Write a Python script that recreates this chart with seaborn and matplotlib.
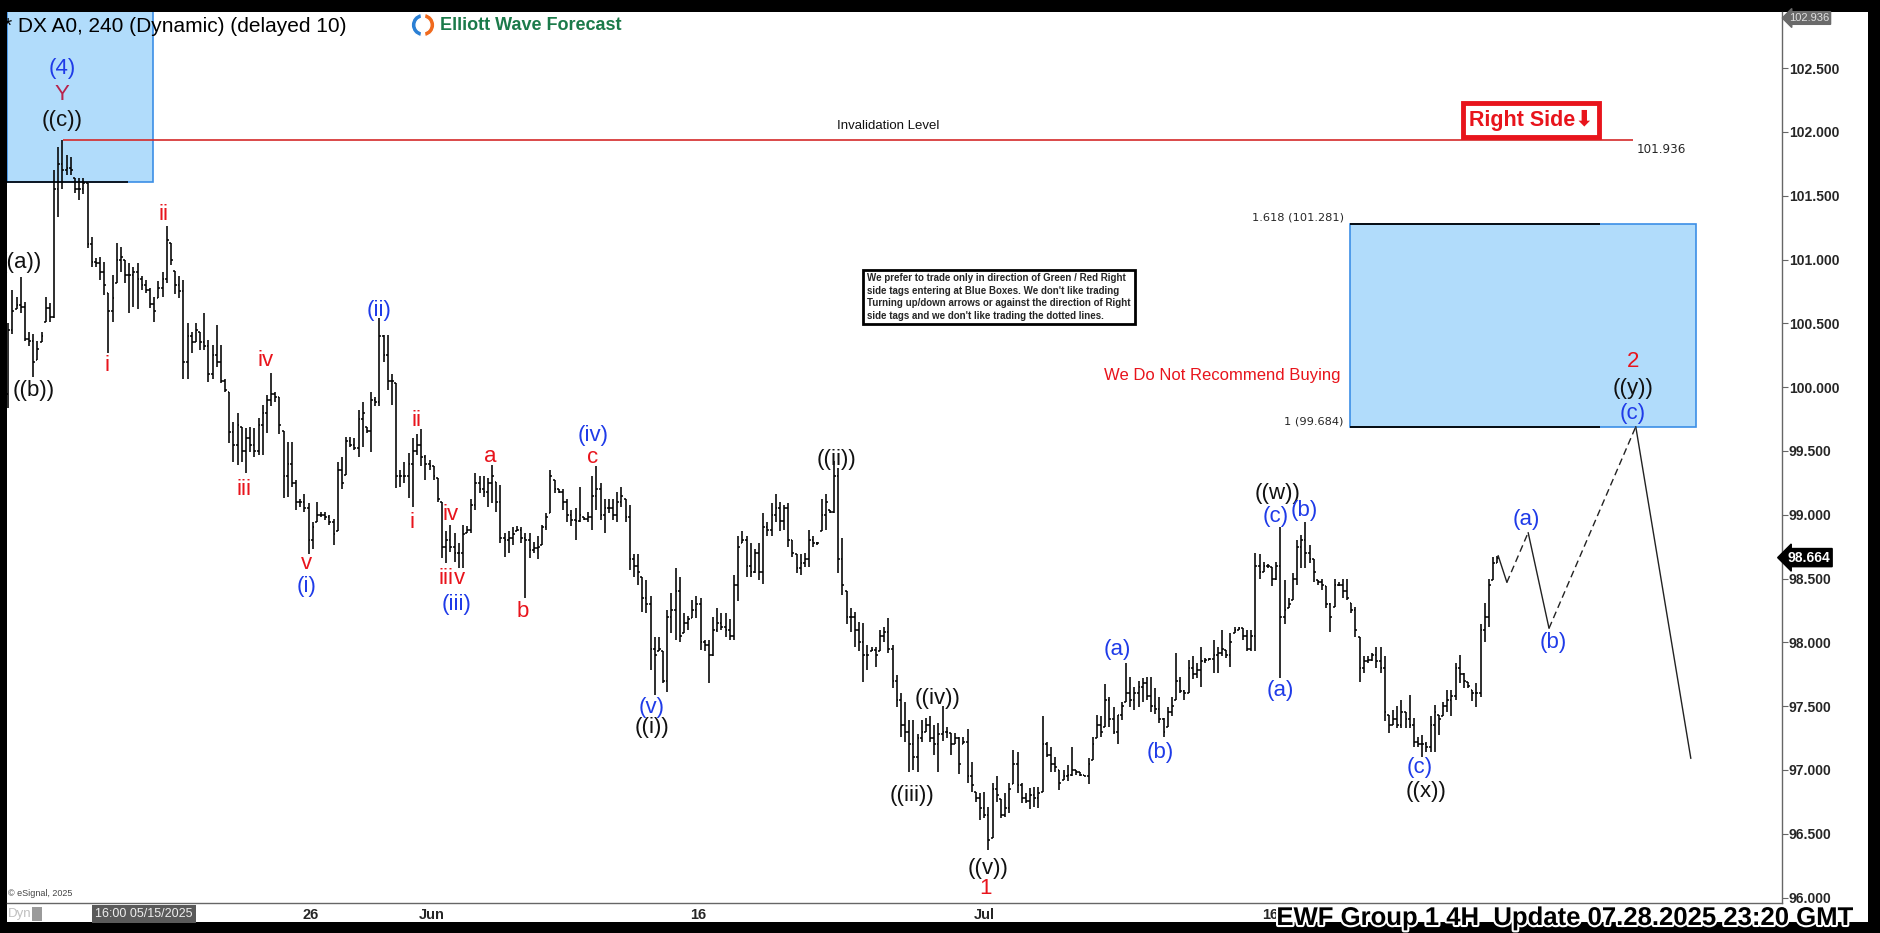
import numpy as np
import matplotlib
matplotlib.use("Agg")
import matplotlib.pyplot as plt
import matplotlib.patheffects as pe
import matplotlib.transforms as mtransforms
from matplotlib.patches import Rectangle, Wedge
from matplotlib import font_manager
import seaborn as sns

# DX A0 240-minute bars (H / L / C, one value per bar)
highs = [
    100.50, 100.76, 100.71, 100.86, 100.67, 100.43, 100.42, 100.36, 100.43, 100.71,
    100.66, 101.70, 101.88, 101.94, 101.82, 101.80, 101.64, 101.64, 101.64, 101.60,
    101.18, 101.01, 101.02, 100.98, 100.74, 100.88, 101.13, 101.10, 101.00, 100.97,
    100.94, 100.97, 100.87, 100.84, 100.78, 100.71, 100.83, 100.90, 101.26, 101.13,
    100.91, 100.87, 100.84, 100.50, 100.43, 100.50, 100.43, 100.58, 100.37, 100.33,
    100.49, 100.33, 100.06, 99.96, 99.73, 99.80, 99.69, 99.68, 99.69, 99.68,
    99.76, 99.86, 99.94, 100.11, 99.96, 99.92, 99.66, 99.57, 99.57, 99.27,
    99.12, 99.16, 99.09, 98.94, 99.10, 99.02, 99.02, 99.00, 98.97, 99.41,
    99.45, 99.61, 99.61, 99.60, 99.82, 99.88, 99.69, 99.96, 99.92, 100.54,
    100.41, 100.41, 100.10, 100.03, 99.35, 99.41, 99.48, 99.60, 99.63, 99.67,
    99.47, 99.43, 99.38, 99.29, 99.10, 98.87, 98.92, 98.86, 98.78, 98.92,
    98.91, 99.12, 99.33, 99.30, 99.30, 99.29, 99.39, 99.26, 99.23, 98.86,
    98.87, 98.90, 98.91, 98.90, 98.86, 98.86, 98.79, 98.83, 98.92, 99.01,
    99.35, 99.27, 99.20, 99.20, 99.12, 99.04, 99.05, 99.22, 98.98, 99.02,
    99.30, 99.38, 99.25, 99.12, 99.12, 99.12, 99.18, 99.22, 99.12, 99.08,
    98.69, 98.69, 98.51, 98.49, 98.36, 98.04, 98.04, 97.93, 98.25, 98.39,
    98.58, 98.51, 98.23, 98.21, 98.33, 98.36, 98.35, 98.02, 98.02, 98.20,
    98.27, 98.23, 98.23, 98.18, 98.53, 98.83, 98.87, 98.83, 98.78, 98.73,
    98.78, 99.01, 98.94, 99.09, 99.16, 99.10, 99.08, 99.09, 98.80, 98.69,
    98.69, 98.70, 98.88, 98.83, 98.79, 99.12, 99.16, 99.04, 99.42, 99.37,
    98.82, 98.40, 98.27, 98.24, 98.16, 98.15, 97.98, 97.96, 97.96, 98.10,
    98.12, 98.19, 97.98, 97.74, 97.60, 97.53, 97.39, 97.39, 97.28, 97.39,
    97.41, 97.42, 97.35, 97.37, 97.50, 97.34, 97.29, 97.29, 97.26, 97.26,
    97.32, 97.06, 96.83, 96.82, 96.83, 96.71, 96.90, 96.95, 96.77, 96.82,
    96.90, 97.16, 97.14, 96.90, 96.82, 96.86, 96.87, 96.87, 97.42, 97.22,
    97.18, 97.10, 97.00, 97.00, 97.04, 97.18, 97.00, 96.98, 96.96, 97.09,
    97.26, 97.43, 97.42, 97.67, 97.57, 97.49, 97.43, 97.53, 97.84, 97.73,
    97.65, 97.70, 97.72, 97.73, 97.73, 97.64, 97.57, 97.41, 97.49, 97.57,
    97.92, 97.73, 97.63, 97.86, 97.89, 97.84, 97.96, 97.88, 97.88, 98.02,
    97.96, 98.10, 97.94, 98.07, 98.12, 98.12, 98.11, 98.10, 98.10, 98.70,
    98.69, 98.63, 98.61, 98.59, 98.63, 98.90, 98.49, 98.35, 98.54, 98.80,
    98.84, 98.94, 98.76, 98.65, 98.49, 98.50, 98.44, 98.31, 98.50, 98.47,
    98.50, 98.50, 98.31, 98.28, 98.04, 97.89, 97.89, 97.92, 97.96, 97.96,
    97.89, 97.43, 97.47, 97.50, 97.55, 97.45, 97.59, 97.41, 97.26, 97.27,
    97.22, 97.42, 97.51, 97.43, 97.53, 97.63, 97.63, 97.84, 97.90, 97.76,
    97.69, 97.63, 97.68, 98.14, 98.31, 98.50, 98.67, 98.68,
]
lows = [
    99.84, 100.42, 100.61, 100.58, 100.36, 100.32, 100.08, 100.21, 100.35, 100.51,
    100.51, 100.54, 101.33, 101.55, 101.66, 101.66, 101.52, 101.47, 101.51, 101.09,
    100.94, 100.94, 100.84, 100.72, 100.27, 100.51, 100.82, 100.90, 100.82, 100.58,
    100.63, 100.61, 100.76, 100.74, 100.62, 100.51, 100.70, 100.71, 100.82, 100.96,
    100.73, 100.70, 100.06, 100.06, 100.27, 100.35, 100.29, 100.29, 100.04, 100.06,
    100.16, 100.03, 99.96, 99.56, 99.41, 99.39, 99.41, 99.33, 99.49, 99.45,
    99.47, 99.47, 99.64, 99.85, 99.88, 99.63, 99.13, 99.14, 99.22, 99.04,
    99.06, 99.02, 98.69, 98.73, 98.94, 98.98, 98.96, 98.92, 98.76, 98.87,
    99.20, 99.31, 99.53, 99.51, 99.45, 99.53, 99.64, 99.49, 99.85, 99.85,
    100.20, 99.98, 99.86, 99.21, 99.22, 99.25, 99.13, 99.06, 99.47, 99.38,
    99.27, 99.35, 99.27, 99.10, 98.66, 98.62, 98.71, 98.63, 98.58, 98.58,
    98.86, 98.86, 99.04, 99.17, 99.14, 99.06, 99.09, 99.02, 98.78, 98.67,
    98.70, 98.76, 98.87, 98.78, 98.35, 98.66, 98.70, 98.65, 98.76, 98.88,
    99.01, 99.17, 99.17, 99.04, 98.94, 98.91, 98.80, 98.94, 98.96, 98.94,
    98.88, 99.04, 98.96, 98.86, 99.01, 98.96, 98.94, 99.06, 98.94, 98.57,
    98.51, 98.45, 98.24, 98.23, 97.78, 97.59, 97.93, 97.68, 97.61, 98.07,
    98.02, 98.00, 98.07, 98.10, 98.19, 98.19, 97.94, 97.93, 97.68, 97.89,
    98.08, 98.10, 98.04, 98.02, 98.02, 98.32, 98.78, 98.51, 98.51, 98.54,
    98.49, 98.46, 98.83, 98.83, 98.94, 98.87, 98.88, 98.75, 98.67, 98.54,
    98.53, 98.59, 98.59, 98.75, 98.76, 98.87, 98.88, 99.01, 99.01, 98.54,
    98.37, 98.14, 98.08, 97.96, 97.93, 97.69, 97.78, 97.93, 97.81, 97.93,
    98.00, 97.92, 97.64, 97.49, 97.26, 97.22, 96.98, 97.00, 96.98, 97.22,
    97.30, 97.22, 97.12, 96.98, 97.23, 97.25, 97.12, 97.20, 96.97, 97.20,
    96.90, 96.83, 96.75, 96.61, 96.62, 96.37, 96.47, 96.75, 96.62, 96.63,
    96.66, 96.89, 96.82, 96.74, 96.74, 96.69, 96.71, 96.70, 96.83, 97.10,
    96.98, 96.98, 96.84, 96.92, 96.91, 96.95, 96.96, 96.95, 96.95, 96.89,
    97.08, 97.25, 97.26, 97.34, 97.34, 97.28, 97.20, 97.39, 97.53, 97.49,
    97.47, 97.49, 97.53, 97.55, 97.45, 97.44, 97.37, 97.26, 97.34, 97.42,
    97.55, 97.60, 97.55, 97.60, 97.71, 97.72, 97.65, 97.84, 97.86, 97.76,
    97.76, 97.89, 97.88, 97.81, 98.07, 98.10, 98.02, 97.93, 97.93, 97.93,
    98.50, 98.55, 98.58, 98.44, 98.49, 97.72, 98.14, 98.27, 98.33, 98.45,
    98.58, 98.58, 98.62, 98.47, 98.45, 98.41, 98.27, 98.08, 98.28, 98.44,
    98.35, 98.33, 98.23, 98.04, 97.69, 97.76, 97.84, 97.85, 97.80, 97.76,
    97.38, 97.29, 97.35, 97.33, 97.33, 97.33, 97.33, 97.18, 97.18, 97.10,
    97.14, 97.14, 97.14, 97.27, 97.42, 97.45, 97.42, 97.55, 97.68, 97.64,
    97.64, 97.54, 97.49, 97.57, 98.00, 98.12, 98.49, 98.62,
]
closes = [
    100.45, 100.60, 100.64, 100.63, 100.38, 100.36, 100.20, 100.30, 100.40, 100.62,
    100.55, 101.55, 101.75, 101.70, 101.72, 101.70, 101.55, 101.55, 101.60, 101.12,
    100.98, 100.97, 100.90, 100.80, 100.60, 100.70, 101.00, 101.02, 100.88, 100.88,
    100.90, 100.85, 100.80, 100.76, 100.65, 100.60, 100.78, 100.85, 101.15, 101.00,
    100.80, 100.75, 100.20, 100.40, 100.35, 100.45, 100.35, 100.32, 100.10, 100.25,
    100.20, 100.05, 99.98, 99.65, 99.55, 99.70, 99.50, 99.60, 99.55, 99.50,
    99.70, 99.80, 99.90, 99.95, 99.92, 99.70, 99.30, 99.40, 99.25, 99.10,
    99.10, 99.05, 98.80, 98.90, 99.00, 99.00, 98.98, 98.94, 98.85, 99.35,
    99.25, 99.58, 99.55, 99.52, 99.75, 99.80, 99.66, 99.90, 99.88, 100.40,
    100.25, 100.05, 100.05, 99.30, 99.30, 99.30, 99.40, 99.50, 99.55, 99.45,
    99.40, 99.38, 99.30, 99.12, 98.75, 98.80, 98.75, 98.70, 98.70, 98.85,
    98.88, 99.08, 99.25, 99.20, 99.18, 99.25, 99.30, 99.10, 98.82, 98.80,
    98.82, 98.85, 98.88, 98.82, 98.80, 98.72, 98.74, 98.75, 98.90, 98.98,
    99.30, 99.20, 99.18, 99.10, 99.00, 98.96, 98.95, 99.00, 98.97, 98.98,
    99.15, 99.20, 99.00, 99.05, 99.05, 99.00, 99.10, 99.15, 98.98, 98.65,
    98.60, 98.55, 98.35, 98.30, 97.95, 97.90, 97.95, 97.70, 98.20, 98.25,
    98.40, 98.05, 98.15, 98.18, 98.25, 98.30, 98.00, 97.98, 97.90, 98.10,
    98.15, 98.12, 98.10, 98.05, 98.45, 98.75, 98.80, 98.60, 98.55, 98.70,
    98.55, 98.90, 98.88, 99.00, 99.05, 98.95, 99.05, 98.80, 98.70, 98.58,
    98.62, 98.65, 98.80, 98.78, 98.78, 99.00, 99.10, 99.02, 99.30, 98.65,
    98.45, 98.20, 98.20, 98.10, 98.00, 97.90, 97.90, 97.94, 97.90, 98.05,
    98.08, 97.95, 97.70, 97.55, 97.35, 97.30, 97.20, 97.10, 97.25, 97.30,
    97.35, 97.25, 97.20, 97.28, 97.30, 97.30, 97.20, 97.25, 97.05, 97.22,
    96.95, 96.88, 96.78, 96.70, 96.65, 96.45, 96.85, 96.80, 96.65, 96.70,
    96.85, 97.05, 96.88, 96.78, 96.76, 96.80, 96.78, 96.82, 97.20, 97.12,
    97.05, 97.02, 96.90, 96.95, 96.96, 97.00, 96.98, 96.96, 96.95, 97.05,
    97.20, 97.35, 97.30, 97.55, 97.40, 97.30, 97.45, 97.50, 97.60, 97.55,
    97.60, 97.65, 97.68, 97.58, 97.50, 97.48, 97.40, 97.30, 97.45, 97.50,
    97.70, 97.62, 97.60, 97.80, 97.75, 97.78, 97.85, 97.86, 97.87, 97.90,
    97.92, 97.95, 97.90, 98.00, 98.10, 98.11, 98.05, 97.95, 98.05, 98.60,
    98.55, 98.60, 98.60, 98.50, 98.60, 98.20, 98.25, 98.30, 98.50, 98.75,
    98.80, 98.70, 98.65, 98.55, 98.47, 98.45, 98.30, 98.20, 98.45, 98.45,
    98.40, 98.35, 98.25, 98.10, 97.80, 97.85, 97.86, 97.90, 97.85, 97.80,
    97.45, 97.35, 97.40, 97.35, 97.45, 97.40, 97.35, 97.22, 97.20, 97.20,
    97.18, 97.35, 97.45, 97.40, 97.50, 97.55, 97.58, 97.80, 97.75, 97.70,
    97.66, 97.60, 97.60, 98.10, 98.20, 98.45, 98.62, 98.664,
]
first_open = 99.95

# date labels on the x axis (bar position of each)
date_pos = [72.6, 101.6, 165.4, 233.9, 302.5]
date_labels = ["26", "Jun", "16", "Jul", "16"]
price_ticks = [96.0, 96.5, 97.0, 97.5, 98.0, 98.5, 99.0, 99.5, 100.0, 100.5, 101.0, 101.5, 102.0, 102.5]

# projected path after the last bar
proj_x = [357.2, 359.3, 364.4, 369.4, 390.2, 403.4]
proj_y = [98.68, 98.47, 98.86, 98.11, 99.69, 97.09]
proj_dashed = [False, True, False, True, False]

# wave labels
wave_x = [3.1, 6.2, 12.9, 12.9, 12.9, 23.7, 37.3, 56.5, 61.8, 71.6, 71.6, 88.9,
          96.8, 97.8, 106.1, 105.0, 108.3, 107.6, 115.5, 123.4, 140.2, 140.2, 154.3, 154.3,
          198.5, 216.7, 222.7, 234.9, 234.4, 265.8, 276.1, 304.4, 303.9, 310.6, 304.9,
          338.5, 339.9, 363.9, 370.4, 389.5, 389.5, 389.5]
wave_y = [100.98, 99.97, 102.50, 102.29, 102.09, 100.17, 101.35, 99.20, 100.21, 98.62, 98.44, 100.60,
          98.94, 99.74, 99.00, 98.50, 98.50, 98.30, 99.46, 98.24, 99.62, 99.45, 97.49, 97.33,
          99.43, 96.80, 97.56, 96.23, 96.07, 97.94, 97.14, 99.17, 98.99, 99.03, 97.62,
          97.02, 96.83, 98.96, 98.00, 100.20, 99.99, 99.79]
wave_txt = ["((a))", "((b))", "(4)", "Y", "((c))", "i", "ii", "iii", "iv", "v", "(i)", "(ii)",
            "i", "ii", "iv", "iii", "v", "(iii)", "a", "b", "(iv)", "c", "(v)", "((i))",
            "((ii))", "((iii))", "((iv))", "((v))", "1", "(a)", "(b)", "((w))", "(c)", "(b)", "(a)",
            "(c)", "((x))", "(a)", "(b)", "2", "((y))", "(c)"]
wave_col = ["k", "k", "b", "m", "k", "r", "r", "r", "r", "r", "b", "b",
            "r", "r", "r", "r", "r", "b", "r", "r", "b", "r", "b", "k",
            "k", "k", "k", "k", "r", "b", "b", "k", "b", "b", "b",
            "b", "k", "b", "b", "r", "k", "b"]
colour_of = {"k": "#111111", "r": "#e8141c", "b": "#1f3be8", "m": "#b8234c"}

invalidation = 101.936
fib_low, fib_high = 99.684, 101.281
last_price = 98.664
top_price = 102.936

sns.set_style("white")
names = {f.name for f in font_manager.fontManager.ttflist}
NARROW = "Liberation Sans Narrow" if "Liberation Sans Narrow" in names else None
plt.rcParams["font.family"] = ["Liberation Sans", "DejaVu Sans"]

W, H = 1881, 933
fig = plt.figure(figsize=(W / 100, H / 100), dpi=100, facecolor="black")
panel = Rectangle((7 / W, 1 - 922 / H), (1868 - 7) / W, (922 - 12) / H,
                  transform=fig.transFigure, fc="white", ec="none", zorder=-5)
fig.add_artist(panel)
ax = fig.add_axes([7 / W, 1 - 903 / H, (1782 - 7) / W, (903 - 12) / H])
ax.set_facecolor("white")

bar_px = 4.171
x0 = -0.3
ax.set_xlim(x0, x0 + (1782 - 7) / bar_px)
ax.set_ylim(95.957, 102.94)

# blue boxes
ax.add_patch(Rectangle((x0, 101.61), 34.7 - x0, 2.0, fc="#b1dcfb", ec="#3c8fe6", lw=1.2, zorder=0.5))
ax.hlines(101.61, x0, 28.7, color="black", lw=1.2, zorder=0.6)
ax.add_patch(Rectangle((321.7, fib_low), 404.6 - 321.7, fib_high - fib_low,
                       fc="#b1dcfb", ec="#3c8fe6", lw=1.2, zorder=0.5))
ax.hlines([fib_low, fib_high], 321.7, 381.6, color="black", lw=1.3, zorder=0.6)

# OHLC bars
hi = np.array(highs)
lo = np.array(lows)
cl = np.clip(np.array(closes), lo, hi)
op = np.clip(np.r_[first_open, cl[:-1]], lo, hi)
idx = np.arange(len(cl))
ax.vlines(idx, lo, hi, color="black", lw=1.15, zorder=2)
ax.hlines(op, idx - 0.42, idx, color="black", lw=1.1, zorder=2)
ax.hlines(cl, idx, idx + 0.42, color="black", lw=1.1, zorder=2)

# projection
for k in range(len(proj_x) - 1):
    sns.lineplot(x=proj_x[k:k + 2], y=proj_y[k:k + 2], ax=ax, color="#222222", lw=1.0,
                 linestyle=(0, (5, 3)) if proj_dashed[k] else "-", sort=False, estimator=None)

# invalidation level
ax.hlines(invalidation, 13.2, 389.5, color="#d42a2a", lw=1.2, zorder=1.5)
ax.text(211, 102.05, "Invalidation Level", fontsize=9.5, ha="center", va="center", color="#111")
ax.text(390.5, 101.86, "101.936", fontsize=8.6, ha="left", va="center", family="DejaVu Sans")
ax.text(320.2, 101.33, "1.618 (101.281)", fontsize=8.2, ha="right", va="center", family="DejaVu Sans")
ax.text(320.2, 99.73, "1 (99.684)", fontsize=8.2, ha="right", va="center", family="DejaVu Sans")
ax.text(319.3, 100.09, "We Do Not Recommend Buying", fontsize=12, ha="right", va="center", color="#e8141c")

for x, y, t, c in zip(wave_x, wave_y, wave_txt, wave_col):
    ax.text(x, y, t, fontsize=16, ha="center", va="center", color=colour_of[c], zorder=3, clip_on=True)

# axes look
for s in ["left", "top"]:
    ax.spines[s].set_visible(False)
for s in ["right", "bottom"]:
    ax.spines[s].set_color("#666666")
    ax.spines[s].set_linewidth(1.0)
ax.yaxis.tick_right()
ax.set_yticks(price_ticks)
ax.set_yticklabels([f"{v:.3f}" for v in price_ticks], fontsize=10, fontweight="bold")
ax.set_xticks(date_pos)
ax.set_xticklabels(date_labels, fontsize=10.5, fontweight="bold")
ax.tick_params(axis="y", length=4, width=0.8, pad=1, color="#666666")
ax.tick_params(axis="x", length=3, width=0.8, pad=0.5, color="#666666")
ax.set_xlabel("")
ax.set_ylabel("")

# price tags on the right
blend = mtransforms.blended_transform_factory(ax.transAxes, ax.transData)
ax.text(1.003, last_price, f"{last_price:.3f}", transform=blend, ha="left", va="center",
        color="white", fontsize=10, fontweight="bold", zorder=5, clip_on=False,
        bbox=dict(boxstyle="larrow,pad=0.15", fc="black", ec="black"))
fig.text(1789 / W, 1 - 18 / H, f"{top_price:.3f}", ha="left", va="center", color="#e0e0e0",
         fontsize=8, bbox=dict(boxstyle="larrow,pad=0.12", fc="#6a6a6a", ec="#6a6a6a"))

# header
fig.text(4 / W, 1 - 26 / H, "* DX A0, 240 (Dynamic) (delayed 10)", fontsize=15, ha="left", va="center", color="black")
logo = fig.add_axes([410 / W, 1 - 38 / H, 26 / W, 26 / H])
logo.set_xlim(-1.1, 1.1)
logo.set_ylim(-1.1, 1.1)
logo.set_aspect("equal")
logo.axis("off")
logo.add_patch(Wedge((0, 0), 1.0, 100, 260, width=0.42, fc="#2a7fd4"))
logo.add_patch(Wedge((0, 0), 1.0, 280, 80, width=0.42, fc="#f06a1e"))
fig.text(440 / W, 1 - 26 / H, "Elliott Wave Forecast", fontsize=13, fontweight="bold", color="#1b7a4a", ha="left", va="center")

# footer bits
fig.text(8 / W, 1 - 894 / H, "\u00a9 eSignal, 2025", fontsize=6.5, color="#444444", va="center")
fig.text(8 / W, 1 - 914 / H, "Dyn", fontsize=9.5, color="#c0c0c0", va="center")
fig.add_artist(Rectangle((32 / W, 1 - 921 / H), 10 / W, 14 / H, transform=fig.transFigure, fc="#9a9a9a", ec="none"))
fig.text(95 / W, 1 - 914 / H, "16:00 05/15/2025", fontsize=9, color="#eeeeee", va="center",
         bbox=dict(boxstyle="square,pad=0.25", fc="#5a5a5a", ec="none"))

# disclaimer box
disc = ("We prefer to trade only in direction of Green / Red Right\n"
        "side tags entering at Blue Boxes. We don't like trading\n"
        "Turning up/down arrows or against the direction of Right\n"
        "side tags and we don't like trading the dotted lines.")
fig.text(999 / W, 1 - 297 / H, disc, ha="center", va="center", multialignment="left",
         fontsize=8.4 if NARROW else 7.0, fontweight="bold", linespacing=1.3,
         family=[NARROW or "Liberation Sans", "DejaVu Sans"],
         bbox=dict(boxstyle="square,pad=0.4", fc="white", ec="black", lw=2))

# right side tag
fig.text(1531 / W, 1 - 120 / H, "Right Side\u2b07", ha="center", va="center", color="#e8141c",
         fontsize=15.5, fontweight="bold", family=["Liberation Sans", "DejaVu Sans"],
         bbox=dict(boxstyle="square,pad=0.28", fc="white", ec="#e8141c", lw=3.5))

fig.text(1854 / W, 1 - 918 / H, "EWF Group 1 4H  Update 07.28.2025 23:20 GMT", ha="right", va="center",
         fontsize=22 if NARROW else 18.5, fontweight="bold", color="black",
         family=[NARROW or "Liberation Sans", "DejaVu Sans"],
         path_effects=[pe.withStroke(linewidth=3, foreground="white")])

fig.savefig("out.png", dpi=100, facecolor=fig.get_facecolor())
